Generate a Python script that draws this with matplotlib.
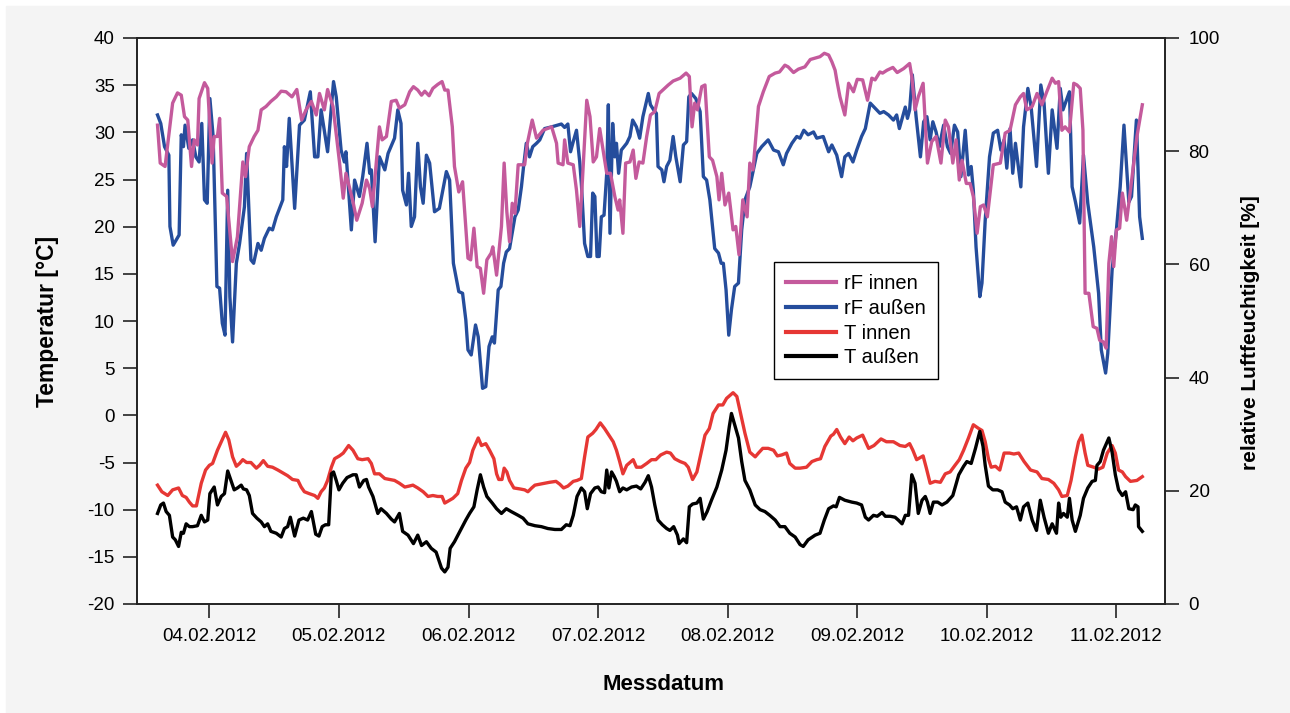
import pandas as pd
import matplotlib
matplotlib.use("Agg")
from matplotlib import pyplot as plt
from matplotlib.patches import Rectangle

plt.rcParams['font.family'] = ['Liberation Sans', 'DejaVu Sans']
plt.rcParams['axes.unicode_minus'] = False  # plain hyphen like the original

START = pd.Timestamp("2012-02-03")  # all hours below count from 03.02.2012 00:00

# (hours, rel. humidity %)
rf_innen = [(14.4,84.6),(14.9,77.9),(15.8,77.3),(16.6,83.7),(17.2,88.5),(18.1,90.3),(18.8,89.9),(19.4,86.1),(20.0,85.5),(20.7,77.3),(21.2,82.0),(21.8,81.1),(22.1,89.3),(23.1,92.1),(23.7,91.1),(24.5,77.9),(24.9,82.6),(25.5,82.6),(25.9,85.8),(26.4,72.6),(27.2,72.0),(28.3,60.5),(29.2,64.9),(30.2,78.1),(30.7,75.5),(31.4,80.8),(32.3,82.6),(33.0,83.7),(33.6,87.3),(34.5,87.9),(35.4,88.8),(36.4,89.6),(37.3,90.6),(38.2,90.5),(39.3,89.6),(40.2,90.9),(41.1,85.5),(41.9,87.3),(42.9,88.8),(43.8,86.4),(44.4,90.2),(45.3,87.3),(45.9,90.9),(46.9,87.9),(48.1,78.1),(48.8,71.7),(49.3,76.1),(50.6,71.1),(51.3,67.8),(52.3,70.8),(53.1,74.9),(53.7,73.4),(54.2,70.2),(55.5,84.3),(56.0,82.0),(56.8,82.6),(57.7,88.8),(58.6,89.0),(59.2,87.6),(60.2,88.2),(61.1,90.5),(61.8,91.4),(62.6,90.8),(63.3,89.9),(63.9,90.6),(64.7,89.8),(65.4,91.1),(66.3,91.8),(67.1,92.3),(67.6,90.8),(68.2,90.8),(69.0,84.3),(69.4,77.3),(70.2,72.8),(70.9,74.6),(71.9,61.1),(72.4,60.8),(73.0,66.4),(73.6,59.6),(74.2,59.3),(74.8,54.9),(75.4,60.8),(76.2,62.0),(76.5,63.1),(77.2,58.1),(78.1,66.7),(78.6,77.9),(79.1,69.3),(79.6,64.0),(80.1,70.8),(80.6,69.0),(81.2,77.6),(82.4,77.6),(82.9,81.4),(83.8,85.5),(84.6,82.3),(85.8,83.7),(87.4,84.3),(88.3,81.4),(88.6,77.9),(89.5,77.6),(89.8,82.0),(90.4,77.9),(91.4,77.6),(92.0,73.1),(92.6,66.7),(93.1,74.9),(93.9,89.0),(94.5,86.1),(95.1,78.1),(95.7,79.0),(96.3,84.0),(97.6,76.1),(98.3,76.1),(99.1,72.0),(99.7,69.6),(100.0,71.4),(100.6,65.5),(101.1,77.9),(101.9,78.1),(102.5,80.2),(103.0,75.2),(103.6,78.1),(104.3,77.9),(105.0,82.6),(105.7,86.4),(106.5,87.0),(107.3,90.2),(108.1,90.9),(109.0,91.7),(109.9,92.4),(111.2,92.9),(112.3,93.8),(112.9,93.2),(113.4,84.3),(113.9,88.5),(114.4,87.3),(115.2,91.4),(115.8,91.7),(116.6,79.0),(117.2,78.4),(118.0,75.5),(118.4,71.4),(118.9,76.1),(119.5,70.5),(120.2,72.6),(121.0,66.1),(121.5,66.7),(122.1,61.7),(122.8,71.4),(123.6,68.4),(124.1,77.9),(124.7,76.7),(125.7,87.9),(126.6,90.5),(127.7,93.2),(128.8,93.8),(129.6,94.0),(130.6,95.2),(131.2,94.9),(132.2,93.9),(133.1,94.5),(134.3,94.9),(135.3,96.2),(136.0,96.4),(137.1,96.7),(137.9,97.3),(138.7,97.0),(139.3,95.8),(139.9,94.3),(140.2,92.6),(140.8,89.6),(141.7,86.4),(142.4,92.0),(143.3,90.5),(144.0,92.7),(145.0,92.6),(145.9,89.0),(146.7,92.9),(147.3,92.6),(148.2,94.0),(148.7,93.8),(149.5,94.3),(150.6,94.8),(151.4,93.9),(152.6,94.6),(153.7,95.5),(154.1,93.2),(154.7,87.3),(155.3,89.6),(156.2,92.0),(157.0,77.9),(157.8,81.7),(158.6,82.6),(159.5,77.9),(160.3,85.5),(160.9,84.3),(161.7,77.9),(162.3,82.0),(162.9,74.9),(163.4,78.4),(164.2,74.3),(164.9,74.3),(165.5,72.0),(166.2,65.5),(166.8,70.2),(167.4,70.5),(168.1,68.4),(169.2,77.6),(170.5,77.9),(171.4,83.2),(172.3,83.7),(173.3,88.2),(174.2,89.6),(174.8,90.2),(175.4,87.3),(176.4,87.9),(177.3,90.2),(178.2,88.2),(179.1,90.5),(180.1,92.9),(180.7,92.0),(181.3,92.3),(181.9,83.7),(182.5,84.3),(183.3,83.4),(184.1,92.0),(184.7,91.7),(185.3,91.1),(185.8,83.7),(186.2,54.9),(186.9,54.9),(187.7,49.0),(188.4,48.7),(188.9,46.6),(189.6,46.3),(190.1,45.2),(190.6,60.2),(191.1,64.9),(191.5,59.6),(192.0,66.1),(192.6,66.4),(193.1,72.6),(193.9,67.8),(194.6,73.1),(195.2,77.9),(195.8,82.6),(196.8,88.2)]

rf_aussen = [(14.4,86.4),(15.0,84.9),(15.7,80.8),(16.5,79.3),(16.7,66.7),(17.3,63.4),(18.4,65.2),(18.8,82.9),(19.2,80.8),(19.5,84.6),(20.2,80.5),(20.9,82.0),(21.5,79.0),(22.1,78.1),(22.6,84.9),(23.1,71.4),(23.6,70.8),(24.1,89.3),(24.7,82.6),(25.4,56.1),(25.9,55.8),(26.4,49.6),(26.9,47.5),(27.4,73.1),(27.8,54.3),(28.3,46.3),(29.0,60.2),(29.6,63.7),(30.5,70.2),(30.9,79.6),(31.3,70.2),(31.7,60.8),(32.2,60.2),(33.0,63.7),(33.6,62.5),(34.2,64.6),(35.1,66.4),(35.7,66.1),(36.4,68.4),(37.6,71.4),(37.9,80.8),(38.3,77.3),(38.8,85.8),(39.8,69.9),(40.7,84.6),(41.6,85.5),(42.7,90.5),(43.5,79.0),(44.1,79.0),(44.7,87.3),(45.9,79.9),(47.0,92.3),(47.5,89.6),(48.4,80.2),(49.0,78.1),(49.3,79.9),(50.3,66.1),(50.9,74.9),(51.8,72.0),(52.4,75.5),(53.2,81.4),(53.7,76.1),(54.0,76.7),(54.7,64.0),(55.5,79.0),(56.5,76.7),(57.1,79.6),(58.3,82.3),(58.9,87.3),(59.5,84.9),(59.8,73.1),(60.5,70.5),(60.9,76.1),(61.4,66.7),(62.0,68.4),(62.6,81.4),(63.1,73.7),(63.6,70.8),(64.2,79.3),(64.8,77.9),(65.7,69.3),(66.6,69.9),(67.9,76.4),(68.5,74.9),(69.2,60.2),(70.2,55.2),(70.9,54.9),(71.5,50.2),(71.9,44.9),(72.5,44.0),(73.3,49.3),(73.8,47.2),(74.6,38.1),(75.2,38.4),(75.8,45.5),(76.4,47.2),(76.8,46.1),(77.5,55.5),(78.0,56.1),(78.5,60.2),(79.0,62.2),(79.6,62.8),(80.6,68.4),(81.2,69.6),(81.8,73.7),(82.2,77.3),(82.7,81.4),(83.3,79.0),(83.9,80.8),(84.6,81.4),(85.2,82.0),(86.1,84.0),(87.4,84.3),(89.2,84.8),(89.8,84.2),(90.4,84.8),(90.9,79.9),(91.4,81.7),(92.0,83.7),(92.6,78.1),(92.9,74.3),(93.5,63.7),(94.1,61.4),(94.6,61.4),(95.0,72.6),(95.4,72.0),(95.8,61.4),(96.2,61.4),(96.6,68.4),(97.1,68.7),(97.6,76.1),(97.9,88.2),(98.2,65.5),(98.7,84.9),(99.1,79.0),(99.4,81.4),(99.8,76.1),(100.3,80.2),(101.3,81.4),(101.9,82.6),(102.4,85.5),(103.1,84.3),(103.7,82.3),(104.3,86.1),(105.3,90.2),(105.7,88.2),(106.3,87.3),(106.8,86.7),(107.1,77.3),(107.8,76.7),(108.2,74.6),(108.7,77.3),(109.3,78.4),(109.9,82.6),(110.4,79.0),(111.2,74.6),(111.8,81.1),(112.4,81.7),(112.8,89.6),(113.3,90.2),(114.1,89.3),(114.9,87.0),(115.5,75.5),(116.1,74.9),(116.7,71.4),(117.6,62.8),(118.3,62.0),(118.8,60.2),(119.2,60.2),(119.7,55.5),(120.2,47.5),(120.7,52.0),(121.3,56.1),(122.0,56.7),(122.6,66.1),(123.2,71.4),(124.1,73.7),(125.4,79.6),(126.3,80.8),(127.5,82.0),(128.5,80.2),(129.4,79.9),(130.3,77.6),(130.9,79.6),(131.9,81.4),(132.8,82.6),(133.4,82.3),(134.1,83.7),(134.9,82.9),(135.9,83.4),(136.5,82.3),(137.7,82.6),(138.7,79.9),(139.3,81.1),(140.2,79.3),(141.1,75.5),(141.7,79.0),(142.4,79.6),(143.2,78.1),(143.9,80.2),(144.8,82.6),(145.5,84.0),(146.4,88.5),(147.3,87.6),(148.2,86.7),(148.9,87.0),(149.8,86.4),(150.7,85.5),(151.3,86.4),(151.8,84.0),(152.9,87.8),(153.3,85.8),(153.7,87.3),(154.2,93.5),(154.9,86.1),(155.7,79.0),(156.3,85.2),(156.9,86.1),(157.5,82.0),(158.0,85.2),(158.6,83.4),(159.2,80.8),(160.0,84.6),(160.7,80.8),(161.3,79.6),(162.0,84.6),(162.6,83.4),(163.2,75.5),(164.0,83.7),(164.6,75.8),(165.1,77.3),(165.5,73.1),(166.0,63.1),(166.7,54.3),(167.1,56.7),(167.7,67.8),(168.5,79.0),(169.2,83.2),(170.0,83.7),(170.6,80.2),(171.2,82.0),(171.7,77.0),(172.3,84.0),(172.8,76.1),(173.3,81.4),(174.3,73.7),(174.8,84.3),(175.6,91.1),(176.2,87.9),(177.2,77.3),(178.0,91.7),(178.6,88.5),(179.4,76.1),(180.1,87.3),(181.0,80.5),(181.6,91.1),(182.1,87.3),(183.3,90.5),(183.8,73.7),(184.4,71.1),(185.2,67.3),(185.9,79.3),(186.7,70.8),(187.8,63.1),(188.7,54.9),(189.2,44.9),(190.0,40.8),(190.4,44.3),(191.2,59.0),(192.0,66.1),(192.7,73.7),(193.4,84.6),(194.3,71.0),(194.8,72.0),(195.7,85.5),(196.3,68.4),(196.8,64.6)]

# (hours, temperature °C)
t_innen = [(14.4,-7.4),(15.2,-8.1),(16.3,-8.5),(17.2,-7.9),(18.3,-7.7),(19.0,-8.5),(19.7,-8.7),(20.3,-9.2),(20.9,-9.6),(21.6,-9.6),(22.5,-7.2),(23.3,-5.8),(24.0,-5.3),(24.6,-5.1),(25.5,-3.7),(26.2,-2.8),(27.0,-1.8),(27.6,-2.6),(28.3,-4.4),(29.0,-5.4),(29.6,-5.1),(30.2,-4.7),(30.9,-5.0),(31.7,-5.0),(32.7,-5.6),(33.3,-5.3),(34.0,-4.8),(34.8,-5.4),(35.7,-5.5),(36.7,-5.8),(37.6,-6.1),(38.5,-6.4),(39.4,-6.8),(40.4,-6.9),(41.0,-7.6),(41.6,-8.1),(42.5,-8.3),(43.5,-8.5),(44.1,-8.8),(44.7,-8.1),(45.3,-7.7),(45.9,-6.9),(46.6,-5.5),(47.2,-4.6),(48.1,-4.3),(48.8,-4.0),(49.8,-3.2),(50.6,-3.7),(51.5,-4.6),(52.3,-4.7),(53.4,-4.6),(54.0,-5.1),(54.6,-6.2),(55.5,-6.2),(56.5,-6.7),(57.4,-6.8),(58.3,-6.9),(59.2,-7.2),(60.2,-7.6),(61.0,-7.5),(61.7,-7.4),(62.6,-7.7),(63.6,-8.1),(64.5,-8.6),(65.4,-8.5),(66.3,-8.6),(67.1,-8.6),(67.6,-9.3),(68.2,-9.1),(69.1,-8.8),(70.0,-8.3),(70.7,-6.9),(71.5,-5.6),(72.2,-5.0),(72.8,-3.7),(73.8,-2.4),(74.4,-3.2),(75.2,-3.0),(75.9,-3.7),(76.7,-4.6),(77.2,-6.2),(77.6,-6.8),(78.2,-6.8),(78.6,-5.6),(79.1,-6.0),(79.6,-6.9),(80.4,-7.7),(81.5,-7.8),(82.4,-7.9),(83.0,-8.1),(83.7,-7.7),(84.3,-7.4),(85.2,-7.3),(86.1,-7.2),(87.0,-7.1),(88.2,-7.0),(88.9,-7.3),(89.6,-7.7),(90.4,-7.5),(91.4,-7.0),(92.1,-6.9),(92.9,-6.7),(93.5,-4.4),(94.1,-2.3),(95.0,-1.9),(95.6,-1.5),(96.4,-0.8),(97.2,-1.4),(98.0,-2.1),(98.8,-2.8),(99.4,-3.7),(100.0,-4.9),(100.6,-6.2),(101.3,-5.3),(101.7,-5.1),(102.5,-4.7),(103.1,-5.5),(104.0,-5.5),(105.0,-5.1),(105.9,-4.7),(106.7,-4.7),(107.6,-4.2),(108.7,-3.9),(109.4,-4.0),(110.2,-4.6),(111.2,-4.9),(112.1,-5.1),(112.7,-5.5),(113.5,-6.8),(114.3,-6.0),(115.0,-4.2),(115.8,-2.1),(116.6,-1.4),(117.3,0.2),(118.3,1.1),(119.1,1.1),(119.8,1.8),(121.0,2.4),(121.7,2.0),(122.4,0.2),(123.2,-1.9),(124.1,-3.9),(125.1,-4.4),(125.7,-4.0),(126.5,-3.5),(127.5,-3.5),(128.5,-3.7),(129.2,-4.3),(130.0,-4.2),(130.9,-4.0),(131.5,-5.1),(132.5,-5.6),(133.4,-5.6),(134.6,-5.5),(135.6,-4.9),(136.5,-4.7),(137.2,-4.6),(138.0,-3.3),(139.1,-2.2),(139.6,-2.0),(140.2,-1.5),(140.9,-2.3),(141.7,-3.0),(142.5,-2.3),(143.2,-2.7),(143.9,-2.4),(145.0,-2.1),(146.1,-3.5),(147.1,-3.2),(148.4,-2.5),(149.4,-2.8),(150.7,-2.8),(151.9,-3.2),(152.9,-3.3),(153.7,-3.0),(154.3,-3.7),(155.0,-4.7),(156.2,-4.3),(156.8,-5.6),(157.5,-7.2),(158.4,-7.0),(159.4,-7.1),(160.3,-6.2),(161.2,-6.0),(162.1,-5.3),(162.9,-4.7),(163.7,-3.7),(164.6,-2.4),(165.5,-1.0),(166.5,-1.4),(167.1,-1.6),(167.7,-2.8),(168.3,-4.6),(168.8,-5.5),(169.6,-5.4),(170.4,-5.8),(171.2,-4.0),(172.2,-4.0),(173.0,-4.1),(173.9,-4.0),(174.9,-4.9),(176.1,-5.8),(177.3,-6.0),(178.2,-6.7),(179.4,-6.8),(180.4,-7.2),(181.3,-7.9),(181.9,-8.6),(182.9,-8.5),(183.6,-6.9),(184.4,-4.4),(185.0,-2.8),(185.6,-2.1),(186.2,-4.0),(186.7,-5.3),(187.8,-5.5),(188.7,-5.7),(189.5,-5.5),(190.3,-4.0),(191.2,-3.2),(191.8,-4.0),(192.4,-5.8),(193.1,-6.0),(193.7,-6.5),(194.6,-7.0),(195.8,-6.9),(196.8,-6.5)]

t_aussen = [(14.4,-10.4),(15.0,-9.5),(15.5,-9.3),(16.0,-10.2),(16.6,-10.6),(17.2,-12.9),(17.7,-13.2),(18.3,-13.9),(18.8,-12.4),(19.2,-12.5),(19.7,-11.5),(20.3,-11.8),(20.9,-11.8),(21.8,-11.7),(22.5,-10.6),(23.1,-11.3),(23.7,-11.1),(24.1,-8.3),(24.9,-7.6),(25.5,-9.5),(26.2,-8.6),(26.8,-8.3),(27.4,-5.9),(28.0,-6.9),(28.6,-7.9),(29.2,-7.7),(29.9,-7.4),(30.3,-7.8),(30.9,-7.9),(31.4,-8.5),(32.0,-10.4),(32.8,-10.9),(33.6,-11.3),(34.2,-11.8),(34.8,-11.5),(35.4,-12.3),(36.4,-12.5),(37.3,-12.9),(37.9,-12.0),(38.5,-11.8),(39.0,-10.8),(39.8,-12.8),(40.6,-11.1),(41.4,-10.9),(42.2,-11.1),(42.9,-10.2),(43.7,-12.6),(44.3,-12.8),(44.9,-11.8),(45.5,-11.6),(46.1,-11.6),(46.6,-6.2),(47.0,-6.0),(47.5,-6.9),(48.0,-7.9),(48.7,-7.2),(49.5,-6.6),(50.6,-6.3),(51.2,-6.3),(51.8,-7.6),(52.6,-6.9),(53.1,-6.8),(53.5,-7.6),(54.3,-8.6),(55.2,-10.4),(55.8,-9.9),(56.8,-10.4),(57.7,-11.0),(58.3,-11.3),(59.2,-10.4),(59.8,-12.3),(60.8,-12.7),(61.8,-13.6),(62.6,-12.7),(63.3,-13.8),(64.2,-13.4),(65.1,-14.1),(66.0,-14.5),(67.0,-16.2),(67.6,-16.6),(68.2,-16.1),(68.6,-14.1),(69.4,-13.4),(70.4,-12.3),(71.5,-11.1),(72.2,-10.4),(73.0,-9.7),(73.6,-7.9),(74.2,-6.3),(74.8,-7.6),(75.4,-8.6),(76.4,-9.3),(77.2,-9.9),(78.1,-10.4),(79.0,-9.9),(79.9,-10.2),(81.2,-10.6),(82.1,-10.9),(83.0,-11.5),(84.3,-11.7),(85.5,-11.8),(86.7,-12.0),(88.0,-12.1),(89.2,-12.1),(90.1,-11.6),(90.8,-11.7),(91.4,-10.6),(92.1,-8.6),(92.9,-7.7),(93.5,-8.1),(94.0,-9.9),(94.6,-8.3),(95.4,-7.7),(96.0,-7.6),(96.6,-8.1),(97.2,-8.2),(97.6,-5.8),(98.0,-7.7),(98.5,-6.0),(99.0,-6.5),(99.4,-7.0),(100.0,-8.1),(100.6,-7.7),(101.3,-7.9),(102.2,-7.6),(103.1,-7.5),(103.9,-7.8),(104.7,-7.1),(105.3,-6.4),(105.9,-7.6),(106.5,-9.5),(107.1,-11.1),(107.9,-11.6),(108.7,-12.0),(109.3,-12.2),(110.0,-11.8),(110.7,-12.7),(111.0,-13.6),(111.8,-13.1),(112.4,-13.5),(112.9,-9.7),(113.5,-9.4),(114.3,-9.3),(114.9,-8.8),(115.5,-11.0),(116.2,-10.2),(117.0,-9.0),(118.0,-7.6),(118.9,-5.8),(119.7,-3.7),(120.3,-1.2),(120.7,0.2),(121.4,-1.2),(122.0,-2.4),(122.6,-4.9),(123.2,-6.9),(124.1,-7.9),(125.1,-9.5),(126.0,-10.0),(126.9,-10.2),(127.8,-10.6),(128.8,-11.1),(129.7,-11.8),(130.6,-11.8),(131.5,-12.5),(132.5,-12.9),(133.4,-13.7),(134.0,-13.9),(134.9,-13.2),(136.2,-12.7),(137.1,-12.5),(137.9,-11.1),(138.7,-9.9),(139.6,-9.6),(140.1,-9.7),(140.7,-8.7),(141.7,-9.0),(143.0,-9.2),(143.9,-9.3),(144.8,-9.5),(145.5,-10.8),(146.1,-11.1),(147.0,-10.6),(147.7,-10.7),(148.6,-10.3),(149.2,-10.7),(150.1,-10.7),(151.0,-10.8),(151.6,-11.1),(152.3,-11.5),(152.9,-10.6),(153.5,-10.6),(154.1,-6.3),(154.7,-7.2),(155.3,-10.4),(156.0,-9.0),(156.6,-8.6),(157.0,-9.2),(157.5,-10.4),(158.1,-9.2),(158.9,-9.2),(159.7,-9.5),(160.6,-9.2),(161.7,-8.5),(162.8,-6.3),(163.7,-5.4),(164.3,-4.9),(165.1,-5.1),(165.9,-3.5),(166.7,-1.7),(167.3,-3.3),(167.7,-5.3),(168.3,-7.5),(169.1,-7.9),(170.0,-7.9),(170.8,-8.1),(171.4,-9.2),(172.2,-9.5),(172.8,-9.9),(173.5,-9.7),(174.2,-11.1),(174.8,-9.7),(175.6,-9.3),(176.4,-11.1),(177.2,-12.2),(177.9,-9.0),(178.6,-10.8),(179.4,-12.5),(180.1,-11.5),(180.9,-12.5),(181.3,-9.3),(181.7,-10.8),(182.2,-10.4),(182.9,-10.8),(183.3,-8.8),(183.8,-11.1),(184.4,-12.3),(185.3,-10.6),(185.9,-8.8),(186.7,-7.7),(187.5,-7.0),(188.1,-6.9),(188.4,-5.3),(189.0,-4.9),(189.6,-3.7),(190.6,-2.4),(191.2,-3.9),(191.8,-6.3),(192.4,-7.9),(193.1,-8.5),(193.7,-8.1),(194.3,-9.9),(195.1,-10.0),(195.5,-9.5),(196.0,-9.7),(196.1,-11.8),(196.8,-12.3)]

DAYS = ['04.02.2012', '05.02.2012', '06.02.2012', '07.02.2012',
        '08.02.2012', '09.02.2012', '10.02.2012', '11.02.2012']
T_TICKS = list(range(-20, 41, 5))
RF_TICKS = list(range(0, 101, 20))

PINK = '#c45a9c'
BLUE = '#254d9c'
RED = '#e63734'


def to_series(pairs):
    hours = [p[0] for p in pairs]
    vals = [p[1] for p in pairs]
    return START + pd.to_timedelta(hours, unit='h'), vals


def main():
    fig = plt.figure(figsize=(12.9, 7.13), dpi=100, facecolor='white')
    # grey panel behind everything, small white margin top/left
    fig.patches.append(Rectangle((6 / 1290, 0), 1, 1 - 6 / 713,
                                 transform=fig.transFigure,
                                 color='#f4f4f4', zorder=-10))

    ax = fig.add_axes([137 / 1290, 109 / 713, 1028 / 1290, 566 / 713])
    ax.set_facecolor('white')
    ax2 = ax.twinx()

    x, y = to_series(t_innen)
    l_ti, = ax.plot(x, y, color=RED, lw=2.4, label='T innen')
    x, y = to_series(t_aussen)
    l_ta, = ax.plot(x, y, color='black', lw=2.4, label='T außen')
    x, y = to_series(rf_aussen)
    l_ra, = ax2.plot(x, y, color=BLUE, lw=2.4, label='rF außen')
    x, y = to_series(rf_innen)
    l_ri, = ax2.plot(x, y, color=PINK, lw=2.4, label='rF innen')

    ax.set_xlim(START + pd.Timedelta(hours=10.6), START + pd.Timedelta(hours=201.0))
    ax.set_ylim(-20, 40)
    ax2.set_ylim(0, 100)

    day_pos = pd.to_datetime(DAYS, format='%d.%m.%Y')
    ax.set_xticks(day_pos)
    ax.set_xticklabels(DAYS)
    ax.set_yticks(T_TICKS)
    ax2.set_yticks(RF_TICKS)

    for a in (ax, ax2):
        a.tick_params(direction='out', length=10, width=1.2, labelsize=13.5,
                      color='#222222')
        for s in a.spines.values():
            s.set_linewidth(1.2)
            s.set_color('#222222')
    ax.tick_params(axis='x', pad=7)
    ax.tick_params(axis='y', pad=6)
    ax2.tick_params(axis='y', pad=7)

    ax.set_ylabel('Temperatur [°C]', fontsize=16.5, fontweight='bold')
    ax.yaxis.set_label_coords(-0.076, 0.5)
    ax2.set_ylabel('relative Luftfeuchtigkeit [%]', fontsize=15, fontweight='bold')
    ax2.yaxis.set_label_coords(1.074, 0.48)
    ax.set_xlabel('Messdatum', fontsize=16, fontweight='bold')
    ax.xaxis.set_label_coords(0.512, -0.123)

    leg = ax2.legend([l_ri, l_ra, l_ti, l_ta],
                     ['rF innen', 'rF außen', 'T innen', 'T außen'],
                     loc='lower left', bbox_to_anchor=(0.6196, 0.397),
                     borderaxespad=0, fontsize=14.5, fancybox=False,
                     framealpha=1, edgecolor='black', handlelength=2.5,
                     handletextpad=0.4, labelspacing=0.28, borderpad=0.6)
    leg.get_frame().set_linewidth(1.0)
    for line in leg.get_lines():
        line.set_linewidth(3)

    fig.savefig('out.png', dpi=100, facecolor=fig.get_facecolor())
    plt.close(fig)


if __name__ == '__main__':
    main()
